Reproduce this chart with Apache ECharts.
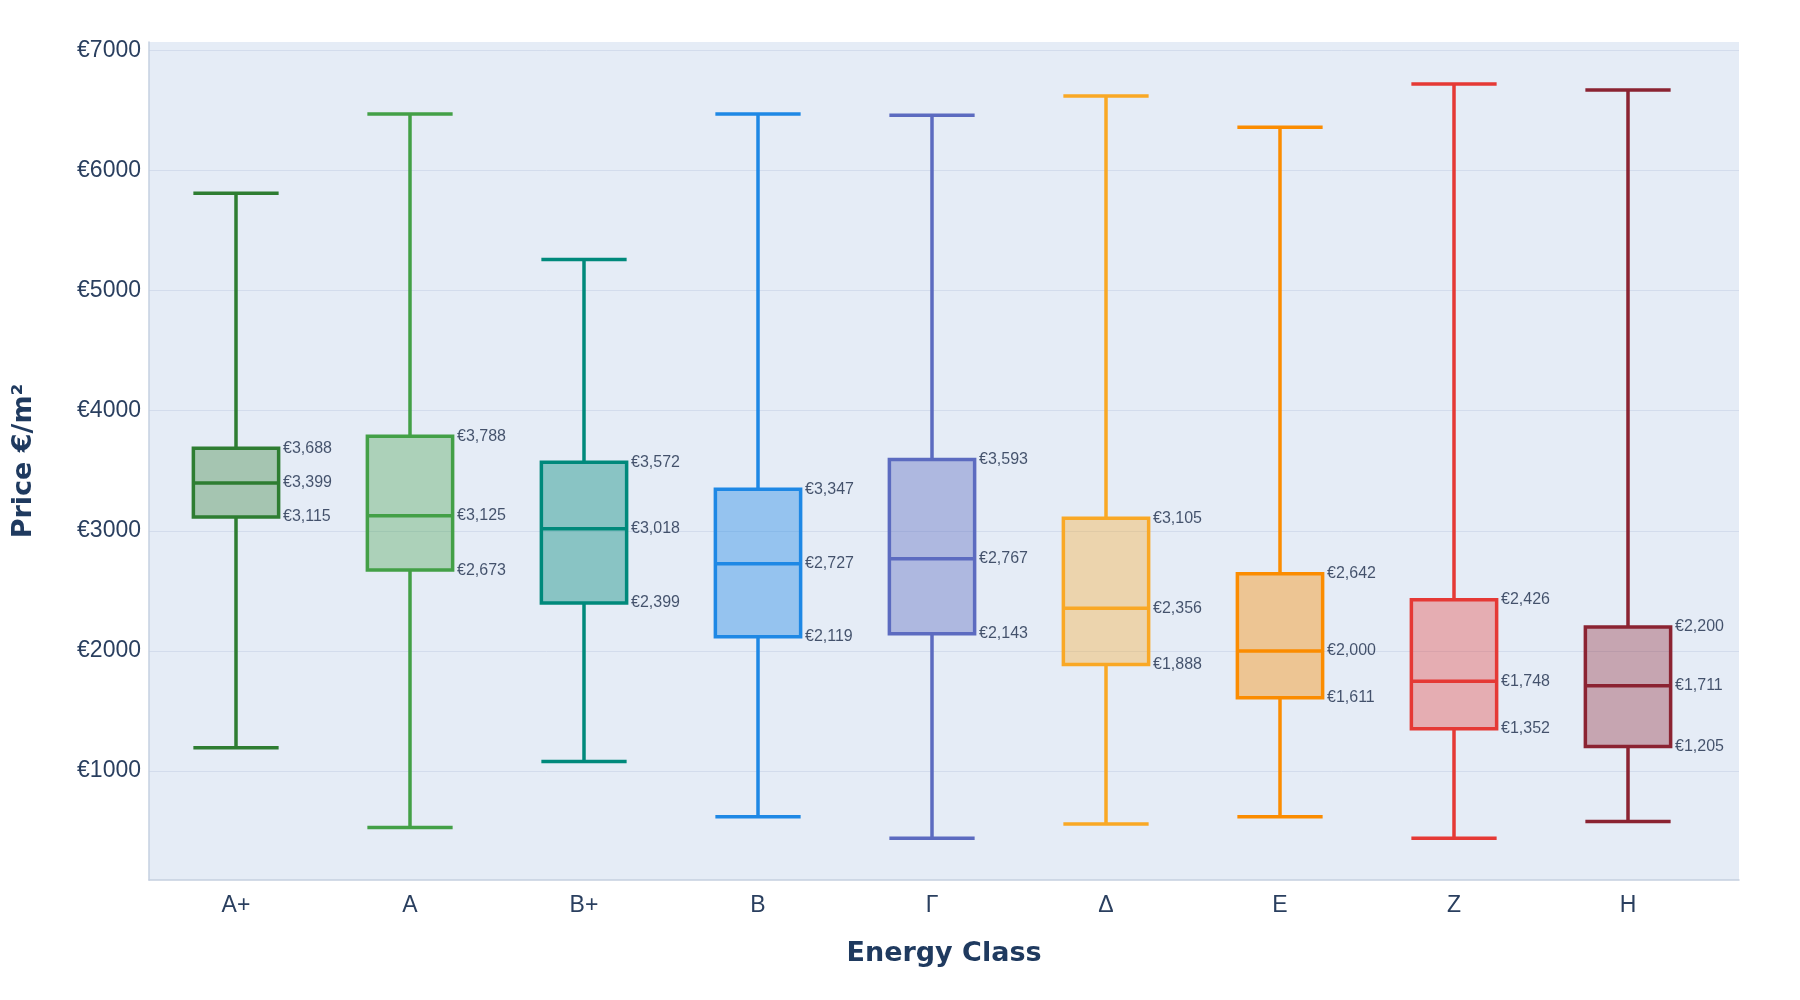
<!DOCTYPE html><html><head><meta charset="utf-8">
<script src="https://cdn.jsdelivr.net/npm/echarts@6/dist/echarts.min.js"></script>
<style>html,body{margin:0;background:#fff}#c{width:1800px;height:1000px}</style></head><body><div id="c"></div>
<script>
const categories=['A+','A','B+','B','Γ','Δ','E','Z','H'];
const mins=[1195,530,1080,620,440,560,620,440,580];
const q1=[3115,2673,2399,2119,2143,1888,1611,1352,1205];
const medians=[3399,3125,3018,2727,2767,2356,2000,1748,1711];
const q3=[3688,3788,3572,3347,3593,3105,2642,2426,2200];
const maxs=[5810,6470,5260,6470,6460,6620,6360,6720,6670];
const colors=['#2e7d32','#43a047','#00897b','#1e88e5','#5c6bc0','#f9a825','#fb8c00','#e53935','#8b2332'];
const fills=['rgba(46,125,50,0.35)','rgba(67,160,71,0.35)','rgba(0,137,123,0.4)','rgba(30,136,229,0.4)','rgba(92,107,192,0.4)','rgba(249,168,37,0.35)','rgba(251,140,0,0.4)','rgba(229,57,53,0.35)','rgba(139,35,50,0.35)'];
const yTicks=[1000,2000,3000,4000,5000,6000,7000];
const fmt=v=>'€'+v.toLocaleString('en-US');
const boxData=categories.map((c,i)=>({value:[mins[i],q1[i],medians[i],q3[i],maxs[i]],itemStyle:{color:fills[i],borderColor:colors[i],borderWidth:3.5}}));
const labelPts=[];
categories.forEach((c,i)=>{[q3[i],medians[i],q1[i]].forEach(v=>labelPts.push([i,v]));});
const chart=echarts.init(document.getElementById('c'));
chart.setOption({
 animation:false,
 grid:[{left:149,right:61,top:42,bottom:120,show:true,backgroundColor:'#e5ecf6',borderWidth:0},
       {left:149,right:85,top:42,bottom:120}],
 xAxis:[{type:'category',gridIndex:0,data:[''],name:'Energy Class',nameLocation:'middle',nameGap:60,
  nameTextStyle:{fontSize:27,fontWeight:900,color:'#1f3a5f',fontFamily:'DejaVu Sans'},
  axisLine:{lineStyle:{color:'#c5d0e0',width:1.5}},axisTick:{show:false},axisLabel:{show:false}},
  {type:'category',gridIndex:1,data:categories,axisLine:{show:false},axisTick:{show:false},
  axisLabel:{fontSize:23,color:'#2a3f5f',margin:14,fontFamily:'Liberation Sans'}}],
 yAxis:[{type:'value',gridIndex:0,min:93,max:7070,name:'Price €/m²',nameLocation:'middle',nameGap:112,
  nameTextStyle:{fontSize:27,fontWeight:900,color:'#1f3a5f',fontFamily:'DejaVu Sans'},
  axisLine:{show:true,lineStyle:{color:'#c5d0e0',width:1.5}},
  axisTick:{show:false,customValues:yTicks},
  axisLabel:{customValues:yTicks,formatter:v=>'€'+v,fontSize:23,color:'#2a3f5f',margin:8,fontFamily:'Liberation Sans'},
  splitLine:{lineStyle:{color:'#d3dcec',width:1}}},
  {type:'value',gridIndex:1,min:93,max:7070,show:false,splitLine:{show:false}}],
 series:[
  {type:'boxplot',xAxisIndex:1,yAxisIndex:1,data:boxData,boxWidth:['49%','49%']},
  {type:'scatter',xAxisIndex:1,yAxisIndex:1,data:labelPts,symbolSize:0,silent:true,
   label:{show:true,position:'right',offset:[42,0],formatter:p=>fmt(p.value[1]),fontSize:16,color:'#1a2a48',fontFamily:'Liberation Sans'}}
 ]
});
</script></body></html>
